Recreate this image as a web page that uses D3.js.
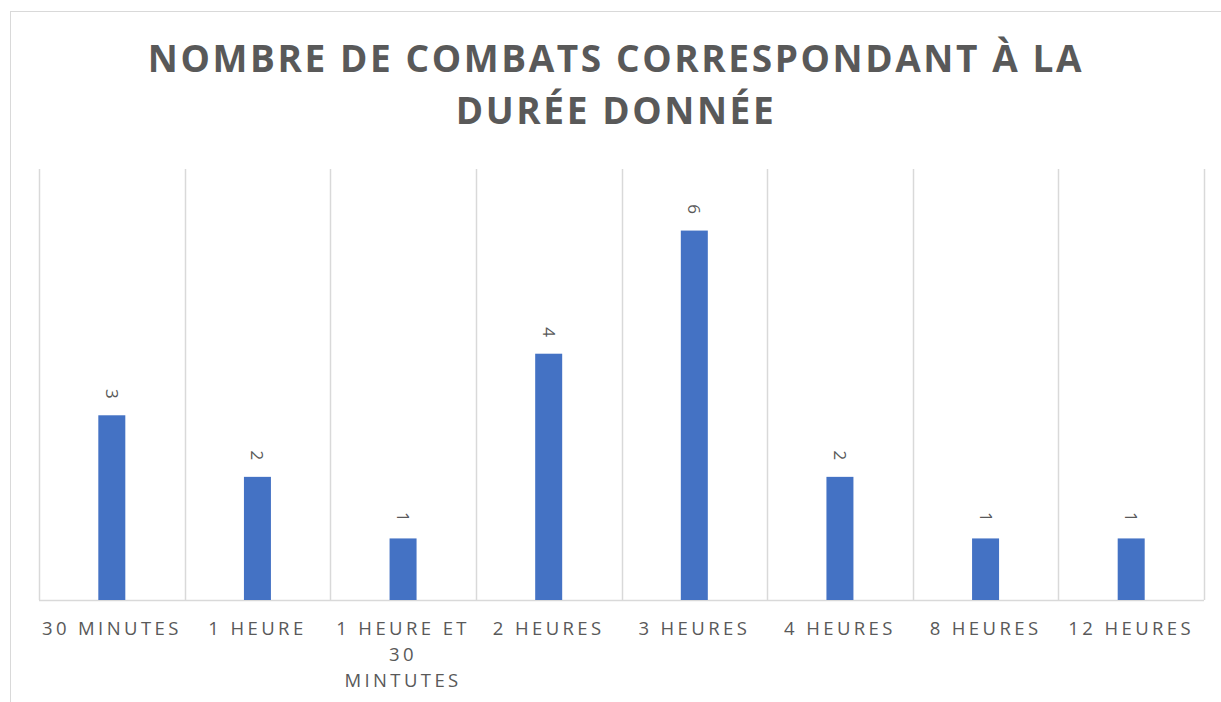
<!DOCTYPE html>
<html>
<head>
<meta charset="utf-8">
<script src="https://cdn.jsdelivr.net/npm/d3@7"></script>
<style>
  body { margin: 0; background: #fff; }
  svg { display: block; font-family: "Open Sans", sans-serif; }
</style>
</head>
<body>
<svg id="chart"></svg>
<script>
const categories = ["30 MINUTES", "1 HEURE", "1 HEURE ET 30 MINTUTES", "2 HEURES", "3 HEURES", "4 HEURES", "8 HEURES", "12 HEURES"];
const values = [3, 2, 1, 4, 6, 2, 1, 1];
const titleLines = ["NOMBRE DE COMBATS CORRESPONDANT À LA", "DURÉE DONNÉE"];

const width = 1221, height = 702;
const margin = { top: 169, right: 17, bottom: 102, left: 39 };
const textColor = "#595959";
const gridColor = "#d9d9d9";

const svg = d3.select("#chart").attr("width", width).attr("height", height);

// chart frame (cut off at right and bottom like the original)
svg.append("rect")
  .attr("x", 10.5).attr("y", 11.5)
  .attr("width", width + 20).attr("height", height + 20)
  .attr("fill", "none").attr("stroke", gridColor);

const title = svg.append("text")
  .attr("text-anchor", "middle")
  .attr("fill", textColor)
  .attr("font-weight", "bold")
  .attr("font-size", "37px")
  .attr("letter-spacing", "2.6px");
title.selectAll("tspan")
  .data(titleLines)
  .enter().append("tspan")
  .attr("x", 616)
  .attr("y", (d, i) => 72 + i * 52)
  .text(d => d);

const x = d3.scaleBand()
  .domain(categories)
  .range([margin.left, width - margin.right])
  .paddingInner(0);

const y = d3.scaleLinear()
  .domain([0, 7])
  .range([height - margin.bottom, margin.top]);

const barWidth = 27;

// vertical category separators
const edges = categories.map(c => x(c)).concat([x(categories[categories.length - 1]) + x.bandwidth()]);
svg.append("g").selectAll("line")
  .data(edges)
  .enter().append("line")
  .attr("x1", d => Math.round(d) + 0.5).attr("x2", d => Math.round(d) + 0.5)
  .attr("y1", y(7)).attr("y2", y(0))
  .attr("stroke", gridColor).attr("stroke-width", 1.5);

// baseline
svg.append("line")
  .attr("x1", margin.left).attr("x2", width - margin.right)
  .attr("y1", y(0) + 0.5).attr("y2", y(0) + 0.5)
  .attr("stroke", gridColor).attr("stroke-width", 1.5);

svg.append("g").selectAll("rect")
  .data(values)
  .enter().append("rect")
  .attr("x", (d, i) => x(categories[i]) + x.bandwidth() / 2 - barWidth / 2)
  .attr("y", d => y(d))
  .attr("width", barWidth)
  .attr("height", d => y(0) - y(d))
  .attr("fill", "#4472C4");

// data labels, rotated
svg.append("g").selectAll("text")
  .data(values)
  .enter().append("text")
  .attr("transform", (d, i) => `translate(${x(categories[i]) + x.bandwidth() / 2},${y(d) - 21.5}) rotate(90)`)
  .attr("text-anchor", "middle")
  .attr("dy", "0.35em")
  .attr("font-size", "17px")
  .attr("fill", textColor)
  .text(d => d);

// category labels with wrapping
const labels = svg.append("g").selectAll("text")
  .data(categories)
  .enter().append("text")
  .attr("text-anchor", "middle")
  .attr("font-size", "18.5px")
  .attr("letter-spacing", "3.4px")
  .attr("fill", textColor)
  .attr("x", d => x(d) + x.bandwidth() / 2)
  .attr("y", 635);

labels.each(function(d) {
  const t = d3.select(this);
  const words = d.split(" ");
  const cx = x(d) + x.bandwidth() / 2;
  let line = [];
  let tspan = t.append("tspan").attr("x", cx).attr("dy", 0);
  words.forEach(w => {
    line.push(w);
    tspan.text(line.join(" "));
    if (tspan.node().getComputedTextLength() > x.bandwidth() - 2 && line.length > 1) {
      line.pop();
      tspan.text(line.join(" "));
      line = [w];
      tspan = t.append("tspan").attr("x", cx).attr("dy", "26px").text(w);
    }
  });
});
</script>
</body>
</html>
